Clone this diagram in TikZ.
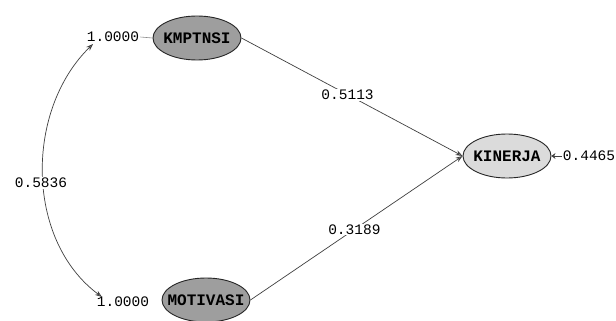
\documentclass[tikz,border=0pt]{standalone}
\usepackage{fontspec}
\setmonofont{Liberation Mono}
\usetikzlibrary{shapes.geometric,arrows.meta}

\tikzset{
  latent/.style={ellipse, draw=black!85, line width=0.9pt, inner sep=0pt,
    minimum width=88pt, minimum height=44pt,
    font=\ttfamily\bfseries\fontsize{16}{16}\selectfont},
  dark/.style={latent, fill=black!38},
  light/.style={latent, fill=black!14},
  coef/.style={font=\ttfamily\fontsize{14.5}{14.5}\selectfont, inner sep=1pt},
  onlink/.style={coef, fill=white},
  path/.style={draw=black!75, line width=0.7pt,
    -{Stealth[length=7pt,width=5pt,fill=black!45]}},
  corr/.style={draw=black!75, line width=0.7pt,
    {Stealth[length=7pt,width=5pt,fill=black!45]}-{Stealth[length=7pt,width=5pt,fill=black!45]}},
  tick/.style={draw=black!45, line width=0.6pt}
}

\begin{document}
\begin{tikzpicture}[x=1pt,y=-1pt]
  \useasboundingbox[fill=white] (0,0) rectangle (616,321);

  % latent variables
  \node[dark]  (kmp) at (197,38)  {\makebox[0pt]{KMPTNSI}};
  \node[dark]  (mot) at (206,300) {\makebox[0pt]{MOTIVASI}};
  \node[light] (kin) at (507,156) {\makebox[0pt]{KINERJA}};

  % variances
  \node[coef] (vk) at (113,37)  {1.0000};
  \node[coef] (vm) at (123,302) {1.0000};
  \node[coef] (ek) at (589,156) {0.4465};
  \draw[tick] (vk.east) -- (kmp.west);
  \draw[draw=black!75, line width=0.7pt, -{Stealth[length=4pt,width=6pt]}] (ek.west) -- (kin.east);

  % structural paths
  \draw[path] (kmp.east) -- (kin.west)
    node[onlink, pos=0.48] (p1) {0.5113};
  \draw[path] (mot.east) -- (kin.west)
    node[onlink, pos=0.49] (p2) {0.3189};

  % correlation between the exogenous variables
  \coordinate (ctop) at (93,44);
  \coordinate (cbot) at (102,297);
  \draw[corr] (ctop) .. controls (25,110) and (25,240) .. (cbot);
  \node[onlink] (r) at (41,183) {0.5836};
\end{tikzpicture}
\end{document}
